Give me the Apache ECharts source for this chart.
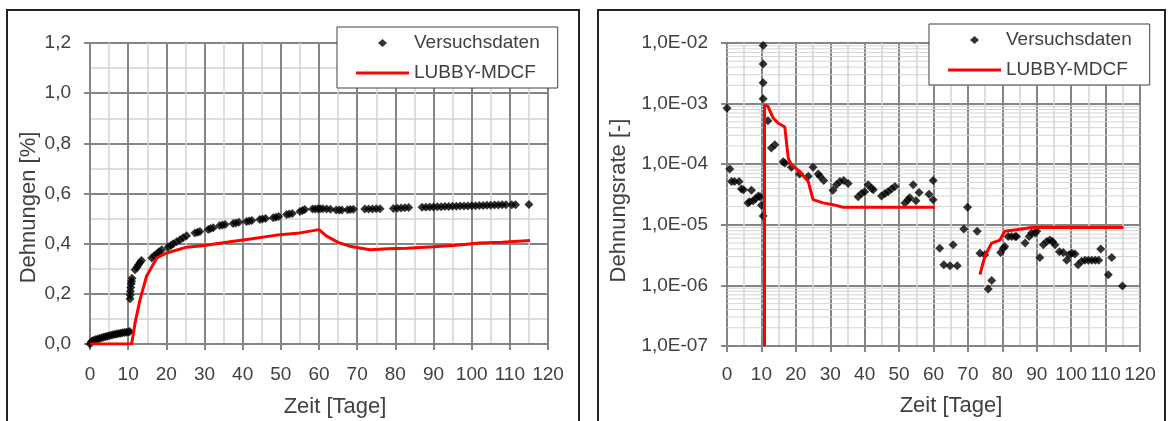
<!DOCTYPE html>
<html><head><meta charset="utf-8">
<script src="https://cdn.jsdelivr.net/npm/echarts@6/dist/echarts.min.js"></script>
<style>html,body{margin:0;padding:0;background:#fff}#c{width:1169px;height:421px}</style>
</head><body><div id="c"></div>
<script>
// ---- Data ----
// Left chart: Dehnungen [%] over Zeit [Tage]
const strainMeasured = [
  [0,0],[0.3,0.008],[0.6,0.012],[1,0.015],[1.5,0.018],[2,0.02],[2.5,0.022],[3,0.025],[3.5,0.027],[4,0.029],
  [4.5,0.031],[5,0.033],[5.5,0.035],[6,0.037],[6.5,0.039],[7,0.04],[7.5,0.042],[8,0.043],[8.5,0.045],[9,0.046],
  [9.5,0.047],[10,0.048],[10.4,0.05],
  [10.5,0.18],[10.55,0.195],[10.6,0.21],[10.7,0.225],[10.8,0.24],[10.9,0.25],[11,0.262],
  [11.8,0.296],[12.3,0.306],[12.7,0.316],[13.1,0.325],[13.5,0.333],
  [16.2,0.343],[16.8,0.352],[17.5,0.36],[18.1,0.368],[18.8,0.376],
  [20.5,0.387],[21.2,0.393],[21.8,0.4],[22.7,0.408],[23.6,0.416],[24.4,0.424],[25.3,0.432],
  [27.5,0.443],[28.2,0.446],[28.8,0.449],[31,0.456],[31.6,0.46],[32.3,0.463],[34,0.472],[34.7,0.474],[35.4,0.476],
  [37.5,0.48],[38.2,0.482],[39,0.485],[41,0.488],[41.7,0.49],[42.4,0.492],[44.5,0.496],[45.2,0.498],[46,0.5],
  [48,0.503],[48.7,0.505],[49.4,0.508],[51.5,0.516],[52.2,0.518],[53,0.52],[55,0.528],[55.7,0.532],[56.3,0.536],
  [58.3,0.538],[59,0.538],[59.7,0.539],[60.3,0.539],[61,0.539],[62,0.538],[63,0.537],
  [64.5,0.534],[65.3,0.534],[66,0.534],[67.5,0.535],[68.2,0.536],[69,0.537],
  [72,0.538],[73,0.538],[74,0.538],[75,0.539],[76,0.539],
  [79.5,0.54],[80.5,0.541],[81.5,0.542],[82.5,0.543],[83.5,0.544],
  [87,0.545],[88,0.545],[89,0.546],[90,0.546],[91,0.547],[92,0.547],[93,0.548],[94,0.548],[95,0.549],[96,0.549],
  [97,0.55],[98,0.55],[99,0.55],[100,0.551],[101,0.551],[102,0.552],[103,0.552],[104,0.553],[105,0.553],
  [106,0.554],[107,0.554],[108,0.555],[109,0.555],[110.5,0.555],[111.5,0.555],[115,0.556]
];
const strainModel = [
  [0,0],[10.9,0],[11.8,0.083],[13.1,0.176],[14.8,0.27],[17.5,0.343],[20.1,0.363],[25.3,0.386],[30,0.393],
  [36.7,0.408],[42,0.419],[49.8,0.436],[55,0.443],[60,0.456],[62,0.43],[65,0.405],[68,0.39],[73.4,0.376],
  [78,0.38],[83,0.382],[90,0.388],[96,0.394],[102,0.403],[108,0.406],[115.3,0.413]
];
// Right chart: Dehnungsrate [-] over Zeit [Tage] (log scale)
const rateMeasured = [
  [0,8.4e-4],[0.8,8.3e-5],[1.3,5.2e-5],[2.2,5.2e-5],[3.5,5.2e-5],[4.2,3.9e-5],[4.8,3.8e-5],[6.1,2.3e-5],[6.6,2.4e-5],
  [7.1,3.7e-5],[7.6,2.5e-5],[8.3,2.7e-5],[9.1,3.0e-5],[9.6,2.9e-5],[10,2.1e-5],[10.5,1.4e-5],
  [10.5,1.2e-3],[10.5,2.2e-3],[10.5,4.5e-3],[10.5,9.1e-3],[11.9,5.2e-4],[12.9,1.85e-4],[13.9,2.1e-4],
  [16.3,1.1e-4],[16.8,1.05e-4],[18.7,8.9e-5],[21.1,6.9e-5],[23.6,6.3e-5],[25,8.9e-5],[26.5,6.9e-5],[27,6.3e-5],
  [28.1,5.4e-5],[30.8,3.7e-5],[31.8,4.6e-5],[32.8,5.2e-5],[33.9,5.4e-5],[35.2,4.8e-5],[38.1,2.9e-5],[39.1,3.3e-5],
  [40,3.5e-5],[41,4.6e-5],[42,4.0e-5],[42.5,3.8e-5],[44.9,3.0e-5],[45.9,3.3e-5],[46.8,3.5e-5],[47.8,3.9e-5],
  [48.8,4.3e-5],[51.7,2.3e-5],[52.6,2.6e-5],[53.1,2.8e-5],[54.1,4.6e-5],[54.9,2.5e-5],[55.8,3.4e-5],[58.7,3.2e-5],
  [59.9,2.6e-5],[59.9,5.4e-5],[61.8,4.1e-6],[63,2.2e-6],[64.8,2.1e-6],[65.7,4.7e-6],[66.9,2.1e-6],[68.8,8.5e-6],
  [69.9,1.95e-5],[72.7,7.8e-6],[73.5,3.4e-6],[74.9,3.2e-6],[75.9,8.7e-7],[76.9,1.2e-6],[79.5,3.5e-6],[80.3,4.1e-6],
  [80.7,4.4e-6],[81.7,6.4e-6],[82.7,6.4e-6],[83.7,6.4e-6],[84.1,6.4e-6],[86.6,5.0e-6],[87.8,6.4e-6],[88.5,7.3e-6],
  [89.5,7.3e-6],[90,7.8e-6],[90.9,2.9e-6],[91.9,4.7e-6],[92.9,5.3e-6],[93.8,5.6e-6],[94.6,5.3e-6],[95.3,4.7e-6],
  [96.6,3.6e-6],[97.7,3.5e-6],[98.7,2.6e-6],[99.4,3.2e-6],[100.2,3.4e-6],[101.1,3.3e-6],[102,2.2e-6],[103,2.5e-6],
  [104,2.6e-6],[105,2.6e-6],[106,2.6e-6],[107,2.6e-6],[108,2.6e-6],[108.6,4.0e-6],[110.8,1.5e-6],[111.8,2.9e-6],
  [114.9,9.8e-7]
];
const rateModelPart1 = [
  [10.9,1e-7],[10.9,9.5e-4],[11.9,9e-4],[13.4,5.8e-4],[14.8,4.8e-4],[16.8,4.1e-4],[17.8,1.26e-4],[18.7,9.8e-5],
  [21.1,7.6e-5],[23.6,5.2e-5],[25,2.6e-5],[27.9,2.3e-5],[30.8,2.15e-5],[33.7,1.95e-5],[60.4,1.95e-5]
];
const rateModelPart2 = [
  [73.5,1.5e-6],[74.9,3.0e-6],[76.9,5.0e-6],[79.3,5.6e-6],[80.7,7.8e-6],[84.1,8.3e-6],[89,9.1e-6],[115.2,9e-6]
];
const xTicksMax = 120;
const strainMax = 1.2;
const rateMin = 1e-7, rateMax = 1e-2;
const seriesNames = ['Versuchsdaten', 'LUBBY-MDCF'];

// ---- Styling ----
const FONT = "'Liberation Sans', Arial, sans-serif";
const TXT = '#404040';
const MAJOR = '#858585', MINOR = '#d4d4d4';

// minor log gridlines (2..9 x 10^k), drawn as thin horizontal line series
const logMinor = [];
for (let e = Math.round(Math.log10(rateMin)); e < Math.round(Math.log10(rateMax)); e++) {
  for (let m = 2; m <= 9; m++) logMinor.push(m * Math.pow(10, e));
}
const minorSeries = logMinor.map(v => ({
  name: 'minor-' + v, type: 'line', xAxisIndex: 1, yAxisIndex: 1,
  data: [[0, v], [xTicksMax, v]], symbol: 'none', silent: true, z: 1,
  color: MINOR, lineStyle: {color: MINOR, width: 1}, emphasis: {disabled: true}, tooltip: {show: false}
}));

function xAxisDef(gi, gapPad, nameGap, labelMargin) {
  return {
    gridIndex: gi, type: 'value', min: 0, max: xTicksMax, interval: 10,
    axisLine: {show: true, onZero: false, lineStyle: {color: MAJOR, width: 2}},
    axisTick: {show: true, length: 6, lineStyle: {color: MAJOR, width: 2}},
    axisLabel: {margin: labelMargin, fontSize: 19, color: TXT, fontFamily: FONT},
    splitLine: {show: true, lineStyle: {color: MAJOR, width: 2}},
    minorTick: {show: false, splitNumber: 2},
    minorSplitLine: {show: true, lineStyle: {color: MINOR, width: 1.5}},
    name: 'Zeit [Tage]', nameLocation: 'middle', nameGap: nameGap,
    nameTextStyle: {fontSize: 22, color: TXT, fontFamily: FONT, padding: [0, 0, 0, gapPad]}
  };
}

const legendIconDot = 'path://M0 0M53 14M26.5 3L31 7L26.5 11L22 7Z';
const legendIconLine = 'path://M0 0M53 14M0 5.5L53 5.5L53 8.5L0 8.5Z';
function legendDef(left, top) {
  return {
    orient: 'vertical', left: left, top: top,
    itemWidth: 53, itemHeight: 14, itemGap: 10,
    padding: [6, 18, 5, 19],
    backgroundColor: '#ffffff', borderColor: '#404040', borderWidth: 1, borderRadius: 0,
    textStyle: {fontSize: 19, color: TXT, fontFamily: FONT, lineHeight: 20},
    data: [{name: seriesNames[0], icon: legendIconDot}, {name: seriesNames[1], icon: legendIconLine}],
    selectedMode: false, z: 10
  };
}

const option = {
  animation: false,
  backgroundColor: '#ffffff',
  grid: [
    {left: 90, top: 43, width: 458, height: 301, outerBoundsMode: 'none'},
    {left: 727, top: 43, width: 413, height: 303, outerBoundsMode: 'none'}
  ],
  xAxis: [xAxisDef(0, 32, 52, 21), xAxisDef(1, 35, 49, 19)],
  yAxis: [
    {
      gridIndex: 0, type: 'value', min: 0, max: strainMax, interval: 0.2,
      axisLine: {show: true, lineStyle: {color: MAJOR, width: 2}},
      axisTick: {show: true, length: 6, lineStyle: {color: MAJOR, width: 2}},
      axisLabel: {margin: 19, fontSize: 19, color: TXT, fontFamily: FONT,
        formatter: v => v.toFixed(1).replace('.', ',')},
      splitLine: {show: true, lineStyle: {color: MAJOR, width: 2}},
      minorTick: {show: false, splitNumber: 2},
      minorSplitLine: {show: true, lineStyle: {color: MINOR, width: 1.5}},
      name: 'Dehnungen [%]', nameLocation: 'middle', nameGap: 50,
      nameTextStyle: {fontSize: 22, color: TXT, fontFamily: FONT, padding: [0, 28, 0, 0]}
    },
    {
      gridIndex: 1, type: 'log', logBase: 10, min: rateMin, max: rateMax,
      axisLine: {show: true, lineStyle: {color: MAJOR, width: 2}},
      axisTick: {show: true, length: 6, lineStyle: {color: MAJOR, width: 2}},
      axisLabel: {margin: 19, fontSize: 19, color: TXT, fontFamily: FONT,
        formatter: v => { const e = Math.round(Math.log10(v)); return '1,0E-' + String(-e).padStart(2, '0'); }},
      splitLine: {show: true, lineStyle: {color: MAJOR, width: 2}},
      name: 'Dehnungsrate [-]', nameLocation: 'middle', nameGap: 97,
      nameTextStyle: {fontSize: 22, color: TXT, fontFamily: FONT, padding: [0, 12, 0, 0]}
    }
  ],
  legend: [legendDef(337, 27), legendDef(929, 24)],
  graphic: [
    {type: 'rect', shape: {x: 7, y: 10, width: 572, height: 440}, style: {fill: 'none', stroke: '#222', lineWidth: 2}, silent: true},
    {type: 'rect', shape: {x: 598, y: 10, width: 567, height: 440}, style: {fill: 'none', stroke: '#222', lineWidth: 2}, silent: true}
  ],
  series: minorSeries.concat([
    {name: seriesNames[0], type: 'scatter', xAxisIndex: 0, yAxisIndex: 0, data: strainMeasured,
      symbol: 'diamond', symbolSize: 9, itemStyle: {color: '#000'}, z: 3},
    {name: seriesNames[1], type: 'line', xAxisIndex: 0, yAxisIndex: 0, data: strainModel,
      symbol: 'none', color: '#ff0000', lineStyle: {color: '#ff0000', width: 3}, z: 4},
    {name: seriesNames[0], type: 'scatter', xAxisIndex: 1, yAxisIndex: 1, data: rateMeasured,
      symbol: 'diamond', symbolSize: 9, itemStyle: {color: '#000'}, z: 3},
    {name: seriesNames[1], type: 'line', xAxisIndex: 1, yAxisIndex: 1, data: rateModelPart1,
      symbol: 'none', color: '#ff0000', lineStyle: {color: '#ff0000', width: 3}, z: 4},
    {name: seriesNames[1], type: 'line', xAxisIndex: 1, yAxisIndex: 1, data: rateModelPart2,
      symbol: 'none', color: '#ff0000', lineStyle: {color: '#ff0000', width: 3}, z: 4}
  ])
};
const chart = echarts.init(document.getElementById('c'), null, {renderer: 'canvas'});
chart.setOption(option);
</script></body></html>
